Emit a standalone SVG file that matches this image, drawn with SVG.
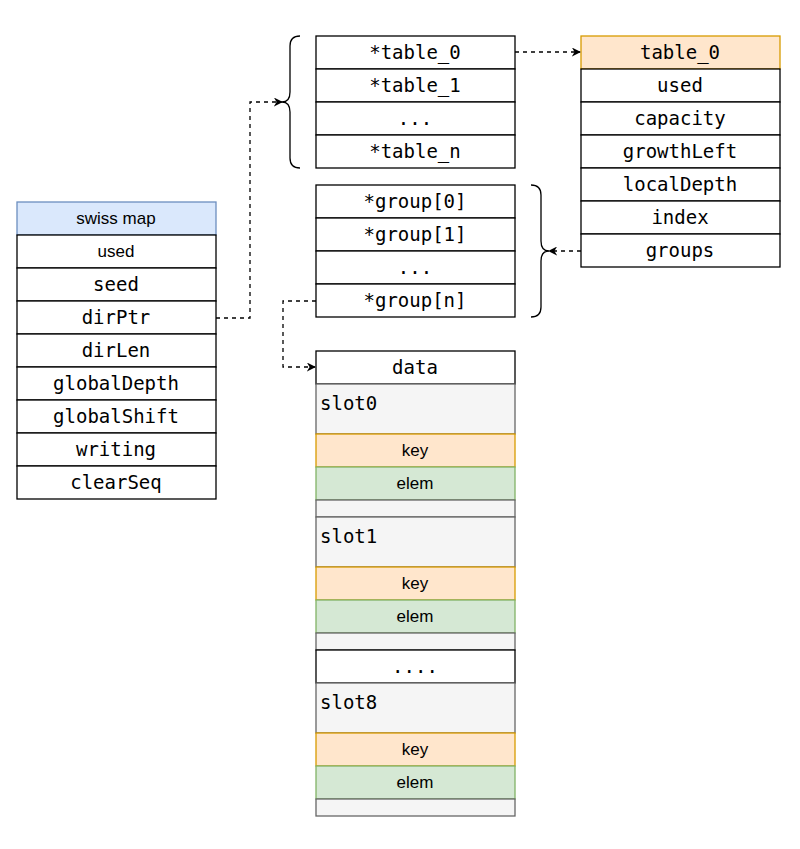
<svg xmlns="http://www.w3.org/2000/svg" width="800" height="849" viewBox="0 0 800 849">
<style>
.c{fill:#fff;stroke:#000;stroke-width:1.3}
.g{fill:#f5f5f5;stroke:#666;stroke-width:1.3}
.k{fill:#ffe6cc;stroke:#d79b00;stroke-width:1.3}
.e{fill:#d5e8d4;stroke:#82b366;stroke-width:1.3}
.h{fill:#dae8fc;stroke:#6c8ebf;stroke-width:1.3}
.m{font-family:"DejaVu Sans Mono",monospace;font-size:19px;text-anchor:middle;dominant-baseline:central}
.ml{font-family:"DejaVu Sans Mono",monospace;font-size:19px}
.s{font-family:"Liberation Sans",Arial,sans-serif;font-size:17px;text-anchor:middle;dominant-baseline:central}
.l{fill:none;stroke:#000;stroke-width:1.3;stroke-dasharray:4 4}
.b{fill:none;stroke:#000;stroke-width:1.3}
</style>
<defs><marker id="a" viewBox="0 0 10 10" refX="9" refY="5" markerWidth="9" markerHeight="9" orient="auto" markerUnits="userSpaceOnUse"><path d="M0,0 L10,5 L0,10 L3,5 Z" fill="#000"/></marker></defs>
<g id="swissmap">
<rect class="h" x="17" y="202" width="199" height="33"/><text class="s" x="116" y="218">swiss map</text>
<rect class="c" x="17" y="235" width="199" height="33"/><text class="s" x="116" y="251">used</text>
<rect class="c" x="17" y="268" width="199" height="33"/><text class="m" x="116" y="284">seed</text>
<rect class="c" x="17" y="301" width="199" height="33"/><text class="m" x="116" y="317">dirPtr</text>
<rect class="c" x="17" y="334" width="199" height="33"/><text class="m" x="116" y="350">dirLen</text>
<rect class="c" x="17" y="367" width="199" height="33"/><text class="m" x="116" y="383">globalDepth</text>
<rect class="c" x="17" y="400" width="199" height="33"/><text class="m" x="116" y="416">globalShift</text>
<rect class="c" x="17" y="433" width="199" height="33"/><text class="m" x="116" y="449">writing</text>
<rect class="c" x="17" y="466" width="199" height="33"/><text class="m" x="116" y="482">clearSeq</text>
</g>
<g id="tables">
<rect class="c" x="316" y="36" width="199" height="33"/><text class="m" x="415" y="52">*table_0</text>
<rect class="c" x="316" y="69" width="199" height="33"/><text class="m" x="415" y="85">*table_1</text>
<rect class="c" x="316" y="102" width="199" height="33"/><text class="m" x="415" y="118">...</text>
<rect class="c" x="316" y="135" width="199" height="33"/><text class="m" x="415" y="151">*table_n</text>
</g>
<g id="table0">
<rect class="k" x="581" y="36" width="199" height="33"/><text class="m" x="680" y="52">table_0</text>
<rect class="c" x="581" y="69" width="199" height="33"/><text class="m" x="680" y="85">used</text>
<rect class="c" x="581" y="102" width="199" height="33"/><text class="m" x="680" y="118">capacity</text>
<rect class="c" x="581" y="135" width="199" height="33"/><text class="m" x="680" y="151">growthLeft</text>
<rect class="c" x="581" y="168" width="199" height="33"/><text class="m" x="680" y="184">localDepth</text>
<rect class="c" x="581" y="201" width="199" height="33"/><text class="m" x="680" y="217">index</text>
<rect class="c" x="581" y="234" width="199" height="33"/><text class="m" x="680" y="250">groups</text>
</g>
<g id="groups">
<rect class="c" x="316" y="185" width="199" height="33"/><text class="m" x="415" y="201">*group[0]</text>
<rect class="c" x="316" y="218" width="199" height="33"/><text class="m" x="415" y="234">*group[1]</text>
<rect class="c" x="316" y="251" width="199" height="33"/><text class="m" x="415" y="267">...</text>
<rect class="c" x="316" y="284" width="199" height="33"/><text class="m" x="415" y="300">*group[n]</text>
</g>
<g id="data">
<rect class="c" x="316" y="351" width="199" height="33"/><text class="m" x="415" y="367">data</text>
<rect class="g" x="316" y="384" width="199" height="50"/><text class="ml" x="320" y="410">slot0</text>
<rect class="k" x="316" y="434" width="199" height="33"/><text class="s" x="415" y="450">key</text>
<rect class="e" x="316" y="467" width="199" height="33"/><text class="s" x="415" y="483">elem</text>
<rect class="g" x="316" y="500" width="199" height="17"/>
<rect class="g" x="316" y="517" width="199" height="50"/><text class="ml" x="320" y="543">slot1</text>
<rect class="k" x="316" y="567" width="199" height="33"/><text class="s" x="415" y="583">key</text>
<rect class="e" x="316" y="600" width="199" height="33"/><text class="s" x="415" y="616">elem</text>
<rect class="g" x="316" y="633" width="199" height="17"/>
<rect class="c" x="316" y="650" width="199" height="33"/><text class="m" x="415" y="666">....</text>
<rect class="g" x="316" y="683" width="199" height="50"/><text class="ml" x="320" y="709">slot8</text>
<rect class="k" x="316" y="733" width="199" height="33"/><text class="s" x="415" y="749">key</text>
<rect class="e" x="316" y="766" width="199" height="33"/><text class="s" x="415" y="782">elem</text>
<rect class="g" x="316" y="799" width="199" height="17"/>
</g>
<g id="connectors">
<path class="b" d="M300,36 Q290,36 290,46 L290,92 Q290,102 282,102 Q290,102 290,112 L290,158 Q290,168 300,168"/>
<path class="b" d="M531,185 Q541,185 541,195 L541,241 Q541,251 549,251 Q541,251 541,261 L541,307 Q541,317 531,317"/>
<path class="l" d="M216,318 L250,318 L250,102 L282,102" marker-end="url(#a)"/>
<path class="l" d="M515,52 L580,52" marker-end="url(#a)"/>
<path class="l" d="M581,251 L549,251" marker-end="url(#a)"/>
<path class="l" d="M316,301 L283,301 L283,367 L315,367" marker-end="url(#a)"/>
</g>
</svg>
